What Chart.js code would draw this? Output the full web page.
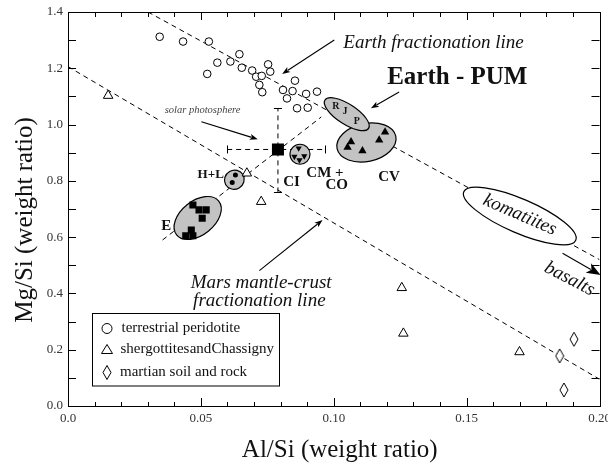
<!DOCTYPE html>
<html><head><meta charset="utf-8">
<script src="https://cdn.jsdelivr.net/npm/chart.js@4.4.1/dist/chart.umd.min.js"></script>
<style>html,body{margin:0;padding:0;background:#fff}#wrap{width:608px;height:465px}</style>
</head><body><div id="wrap"><canvas id="c" width="608" height="465"></canvas></div>
<script>
// ---------- data ----------
const xTickLabels = ['0.0','0.05','0.10','0.15','0.20'];
const yTickLabels = ['0.0','0.2','0.4','0.6','0.8','1.0','1.2','1.4'];

const peridotiteX = [0.0345,0.0433,0.0530,0.0645,0.0562,0.0611,0.0654,0.0524,0.0753,0.0693,0.0761,0.0708,0.0729,0.0720,0.0731,0.0854,0.0809,0.0845,0.0896,0.0937,0.0824,0.0862,0.0902];
const peridotiteY = [1.312,1.295,1.295,1.250,1.220,1.224,1.202,1.180,1.214,1.192,1.188,1.170,1.173,1.141,1.115,1.156,1.123,1.119,1.109,1.117,1.093,1.058,1.060];

const shergottiteX = [0.0151,0.0673,0.0727,0.1256,0.1262,0.1699];
const shergottiteY = [1.103,0.827,0.726,0.420,0.258,0.192];

const martianX = [0.1850,0.1904,0.1866];
const martianY = [0.178,0.237,0.057];

const enstatiteX = [0.0470,0.0493,0.0520,0.0505,0.0464,0.0443,0.0470];
const enstatiteY = [0.714,0.697,0.697,0.667,0.625,0.605,0.605];

const hlX = [0.0630,0.0618];
const hlY = [0.821,0.794];

const cmcoX = [0.0868,0.0852,0.0871,0.0889];
const cmcoY = [0.916,0.886,0.874,0.888];

const cvX = [0.1193,0.1171,0.1065,0.1052,0.1108];
const cvY = [0.973,0.945,0.939,0.919,0.907];

const solarX = [0.0790];
const solarY = [0.9115];
const solarErrX = [0.0599,0.0967];
const solarErrY = [0.759,1.058];

const earthLineX = [0.0301,0.2000];
const earthLineY = [1.400,0.520];
const marsLineX = [0.0000,0.2000];
const marsLineY = [1.206,0.095];
const chondriteLineX = [0.0356,0.0953];
const chondriteLineY = [0.590,1.027];

// ---------- annotation layout (data-space anchors) ----------
const blobs = [
  {cx:0.1123, cy:0.9364, rx:30, ry:19, ang:-12, fill:'#c3c3c3'},
  {cx:0.1049, cy:1.0370, rx:26, ry:10, ang:33, fill:'#c3c3c3'},
  {cx:0.0488, cy:0.6681, rx:27, ry:17, ang:-38.7, fill:'#c3c3c3'},
  {cx:0.0626, cy:0.8042, rx:10, ry:9.5, ang:-30, fill:'#c3c3c3'},
  {cx:0.0873, cy:0.8945, rx:10, ry:10, ang:0, fill:'#c3c3c3'},
  {cx:0.1700, cy:0.6752, rx:61, ry:17, ang:23.4, fill:'#ffffff'}
];
const labels = [
  {t:'Earth fractionation line', x:0.1036, y:1.290, font:'italic 19px "Liberation Serif"', align:'left'},
  {t:'Earth - PUM', x:0.1201, y:1.1656, font:'bold 25px "Liberation Serif"', align:'left'},
  {t:'solar photosphere', x:0.0364, y:1.0519, font:'italic 10.5px "Liberation Serif"', align:'left', color:'#444'},
  {t:'Mars mantle-crust', x:0.0727, y:0.4382, font:'italic 19px "Liberation Serif"', align:'center'},
  {t:'fractionation line', x:0.0720, y:0.3731, font:'italic 19px "Liberation Serif"', align:'center'},
  {t:'E', x:0.0370, y:0.6407, font:'bold 15px "Liberation Serif"', align:'center'},
  {t:'H+L', x:0.0537, y:0.8209, font:'bold 13px "Liberation Serif"', align:'center'},
  {t:'CI', x:0.0841, y:0.7960, font:'bold 15px "Liberation Serif"', align:'center'},
  {t:'CM +', x:0.0967, y:0.8291, font:'bold 15px "Liberation Serif"', align:'center'},
  {t:'CO', x:0.1011, y:0.7854, font:'bold 15px "Liberation Serif"', align:'center'},
  {t:'CV', x:0.1208, y:0.8127, font:'bold 15px "Liberation Serif"', align:'center'},
  {t:'R', x:0.1008, y:1.0661, font:'bold 10px "Liberation Serif"', align:'center'},
  {t:'J', x:0.1042, y:1.0458, font:'bold 10px "Liberation Serif"', align:'center'},
  {t:'P', x:0.1087, y:1.0128, font:'bold 10px "Liberation Serif"', align:'center'},
  {t:'komatiites', x:0.1700, y:0.6788, font:'italic 19px "Liberation Serif"', align:'center', rot:23.4},
  {t:'basalts', x:0.1887, y:0.4513, font:'italic 19px "Liberation Serif"', align:'center', rot:27.4}
];
const arrows = [
  {x1:0.1002,y1:1.3006,x2:0.0806,y2:1.1798, big:false},
  {x1:0.1246,y1:1.1159,x2:0.1140,y2:1.0579, big:false},
  {x1:0.0502,y1:1.0103,x2:0.0714,y2:0.9478, big:false},
  {x1:0.0720,y1:0.4808,x2:0.0958,y2:0.6610, big:false},
  {x1:0.1861,y1:0.5426,x2:0.2004,y2:0.4655, big:true}
];

const zip = (xs, ys) => xs.map((x, i) => ({x, y: ys[i]}));

// tall diamond point style
function diamondCanvas(w, h) {
  const c = document.createElement('canvas');
  c.width = w + 2; c.height = h + 2;
  const g = c.getContext('2d');
  g.beginPath();
  g.moveTo(c.width/2, 1); g.lineTo(c.width - 1, c.height/2);
  g.lineTo(c.width/2, c.height - 1); g.lineTo(1, c.height/2); g.closePath();
  g.fillStyle = '#fff'; g.fill();
  g.strokeStyle = '#000'; g.lineWidth = 1; g.stroke();
  return c;
}
const diamond = diamondCanvas(8, 14);

const dashed = (pts) => ({type:'line', data:pts, borderColor:'#000', borderWidth:1, borderDash:[5,4], pointRadius:0, fill:false, order:10, showLine:true});

const datasets = [
  dashed(zip(earthLineX, earthLineY)),
  dashed(zip(marsLineX, marsLineY)),
  dashed(zip(chondriteLineX, chondriteLineY)),
  dashed([{x:solarErrX[0], y:solarY[0]},{x:solarErrX[1], y:solarY[0]}]),
  dashed([{x:solarX[0], y:solarErrY[0]},{x:solarX[0], y:solarErrY[1]}]),
  {marker:true, label:'terrestrial peridotite', data:zip(peridotiteX, peridotiteY), pointStyle:'circle', pointRadius:3.8, backgroundColor:'#fff', borderColor:'#000', borderWidth:1},
  {marker:true, label:'shergottites and Chassigny', data:zip(shergottiteX, shergottiteY), pointStyle:'triangle', pointRadius:5.5, backgroundColor:'#fff', borderColor:'#000', borderWidth:1},
  {marker:true, label:'martian soil and rock', data:zip(martianX, martianY), pointStyle:diamond},
  {marker:true, label:'E', data:zip(enstatiteX, enstatiteY), pointStyle:'rect', pointRadius:5, backgroundColor:'#000', borderColor:'#000', borderWidth:0},
  {marker:true, label:'H+L', data:zip(hlX, hlY), pointStyle:'circle', pointRadius:2.5, backgroundColor:'#000', borderColor:'#000', borderWidth:0},
  {marker:true, label:'CM+CO', data:zip(cmcoX, cmcoY), pointStyle:'triangle', pointRotation:180, pointRadius:3.6, backgroundColor:'#000', borderColor:'#000', borderWidth:0},
  {marker:true, label:'CV', data:zip(cvX, cvY), pointStyle:'triangle', pointRadius:4.8, backgroundColor:'#000', borderColor:'#000', borderWidth:0},
  {marker:true, label:'solar', data:zip(solarX, solarY), pointStyle:'rect', pointRadius:8.5, backgroundColor:'#000', borderColor:'#000', borderWidth:0}
];

let blobsDrawn = false;
const decor = {
  id:'decor',
  beforeDatasetsDraw() { blobsDrawn = false; },
  beforeDatasetDraw(chart, args) {
    if (blobsDrawn || !chart.data.datasets[args.index].marker) return;
    blobsDrawn = true;
    const ctx = chart.ctx, sx = chart.scales.x, sy = chart.scales.y;
    ctx.save();
    // error-bar caps
    ctx.strokeStyle = '#000'; ctx.lineWidth = 1; ctx.setLineDash([]);
    const yc = sy.getPixelForValue(solarY[0]), xc = sx.getPixelForValue(solarX[0]);
    ctx.beginPath();
    solarErrX.forEach(v => { const p = Math.round(sx.getPixelForValue(v)) + 0.5; ctx.moveTo(p, yc - 4); ctx.lineTo(p, yc + 4); });
    solarErrY.forEach(v => { const p = Math.round(sy.getPixelForValue(v)) + 0.5; ctx.moveTo(xc - 4, p); ctx.lineTo(xc + 4, p); });
    ctx.stroke();
    blobs.forEach(b => {
      ctx.beginPath();
      ctx.ellipse(sx.getPixelForValue(b.cx), sy.getPixelForValue(b.cy), b.rx, b.ry, b.ang*Math.PI/180, 0, Math.PI*2);
      ctx.fillStyle = b.fill; ctx.fill();
      ctx.lineWidth = 1.2; ctx.strokeStyle = '#000'; ctx.stroke();
    });
    ctx.restore();
  },
  afterDraw(chart) {
    const ctx = chart.ctx, sx = chart.scales.x, sy = chart.scales.y, a = chart.chartArea;
    ctx.save();
    ctx.setLineDash([]);
    ctx.strokeStyle = '#000'; ctx.lineWidth = 1;
    // frame
    ctx.strokeRect(Math.round(a.left) + 0.5, Math.round(a.top) + 0.5, Math.round(a.right - a.left), Math.round(a.bottom - a.top));
    // inward ticks
    ctx.beginPath();
    for (let i = 0; i <= 20; i++) {
      const p = Math.round(sx.getPixelForValue(i * 0.01)) + 0.5;
      const len = (i % 5 === 0) ? 8 : 4;
      ctx.moveTo(p, a.bottom); ctx.lineTo(p, a.bottom - len);
      ctx.moveTo(p, a.top); ctx.lineTo(p, a.top + (i % 5 === 0 ? 8 : 5));
    }
    for (let i = 0; i <= 14; i++) {
      const p = Math.round(sy.getPixelForValue(i * 0.1)) + 0.5;
      ctx.moveTo(a.left, p); ctx.lineTo(a.left + 8, p);
      ctx.moveTo(a.right, p); ctx.lineTo(a.right - 8, p);
    }
    ctx.stroke();
    // arrows
    arrows.forEach(r => {
      const x1 = sx.getPixelForValue(r.x1), y1 = sy.getPixelForValue(r.y1);
      const x2 = sx.getPixelForValue(r.x2), y2 = sy.getPixelForValue(r.y2);
      const ang = Math.atan2(y2 - y1, x2 - x1);
      const hl = r.big ? 14 : 8, hw = r.big ? 5.5 : 3;
      ctx.beginPath();
      ctx.moveTo(x1, y1); ctx.lineTo(x2 - Math.cos(ang) * hl * 0.8, y2 - Math.sin(ang) * hl * 0.8);
      ctx.lineWidth = 1.1; ctx.stroke();
      ctx.beginPath();
      ctx.moveTo(x2, y2);
      ctx.lineTo(x2 - Math.cos(ang) * hl + Math.sin(ang) * hw, y2 - Math.sin(ang) * hl - Math.cos(ang) * hw);
      ctx.lineTo(x2 - Math.cos(ang) * hl * 0.75, y2 - Math.sin(ang) * hl * 0.75);
      ctx.lineTo(x2 - Math.cos(ang) * hl - Math.sin(ang) * hw, y2 - Math.sin(ang) * hl + Math.cos(ang) * hw);
      ctx.closePath(); ctx.fillStyle = '#000'; ctx.fill();
    });
    // text labels
    ctx.textBaseline = 'middle';
    labels.forEach(l => {
      ctx.save();
      ctx.font = l.font; ctx.fillStyle = l.color || '#111'; ctx.textAlign = l.align;
      ctx.translate(sx.getPixelForValue(l.x), sy.getPixelForValue(l.y));
      if (l.rot) ctx.rotate(l.rot * Math.PI / 180);
      ctx.fillText(l.t, 0, 0);
      ctx.restore();
    });
    // axis titles
    ctx.fillStyle = '#111';
    ctx.font = '25px "Liberation Serif"'; ctx.textAlign = 'center';
    ctx.fillText('Al/Si (weight ratio)', (a.left + a.right) / 2 + 6, 450);
    ctx.save();
    ctx.translate(25, (a.top + a.bottom) / 2 + 11);
    ctx.rotate(-Math.PI / 2);
    ctx.fillText('Mg/Si (weight ratio)', 0, 0);
    ctx.restore();
    // legend
    const L = {x: a.left + 24.5, y: 313.5, w: 187, h: 72.5};
    ctx.fillStyle = '#fff'; ctx.fillRect(L.x, L.y, L.w, L.h);
    ctx.lineWidth = 1; ctx.strokeStyle = '#000'; ctx.strokeRect(L.x, L.y, L.w, L.h);
    const mx = L.x + 14.5, rows = [L.y + 15, L.y + 36, L.y + 59];
    ctx.beginPath(); ctx.arc(mx, rows[0], 5, 0, Math.PI * 2); ctx.stroke();
    ctx.beginPath(); ctx.moveTo(mx, rows[1] - 5); ctx.lineTo(mx + 5.5, rows[1] + 4); ctx.lineTo(mx - 5.5, rows[1] + 4); ctx.closePath(); ctx.stroke();
    ctx.beginPath(); ctx.moveTo(mx, rows[2] - 7); ctx.lineTo(mx + 4, rows[2]); ctx.lineTo(mx, rows[2] + 7); ctx.lineTo(mx - 4, rows[2]); ctx.closePath(); ctx.stroke();
    ctx.fillStyle = '#111'; ctx.textAlign = 'left'; ctx.font = '15px "Liberation Serif"';
    const lt = ['terrestrial peridotite', 'shergottites and Chassigny', 'martian soil and rock'];
    const tx = [L.x + 29, L.x + 28, L.x + 27.5];
    ctx.fillText(lt[0], tx[0], rows[0]);
    ctx.save();
    try { ctx.wordSpacing = '-3.5px'; } catch (e) {}
    ctx.fillText(lt[1], tx[1], rows[1]);
    ctx.restore();
    ctx.fillText(lt[2], tx[2], rows[2]);
    ctx.restore();
  }
};

new Chart(document.getElementById('c'), {
  type: 'scatter',
  data: { datasets },
  options: {
    responsive: false, animation: false, devicePixelRatio: 1, events: [],
    layout: { padding: { top: 12, right: 7, left: 0, bottom: 0 } },
    plugins: { legend: { display: false }, tooltip: { enabled: false } },
    scales: {
      x: {
        type: 'linear', min: 0, max: 0.2,
        afterFit: s => { s.height = 59; s.paddingLeft = 0; s.paddingRight = 0; },
        grid: { display: false, drawTicks: false }, border: { display: false },
        ticks: { stepSize: 0.05, autoSkip: false, maxRotation: 0, padding: 5, color: '#333',
          font: { family: 'Liberation Serif', size: 13 },
          callback: v => xTickLabels[Math.round(v / 0.05)] }
      },
      y: {
        type: 'linear', min: 0, max: 1.4,
        afterFit: s => { s.width = 68; s.paddingTop = 0; s.paddingBottom = 0; },
        grid: { display: false, drawTicks: false }, border: { display: false },
        ticks: { stepSize: 0.2, autoSkip: false, padding: 5, color: '#333',
          font: { family: 'Liberation Serif', size: 13 },
          callback: v => yTickLabels[Math.round(v / 0.2)] }
      }
    }
  },
  plugins: [decor]
});
</script></body></html>
